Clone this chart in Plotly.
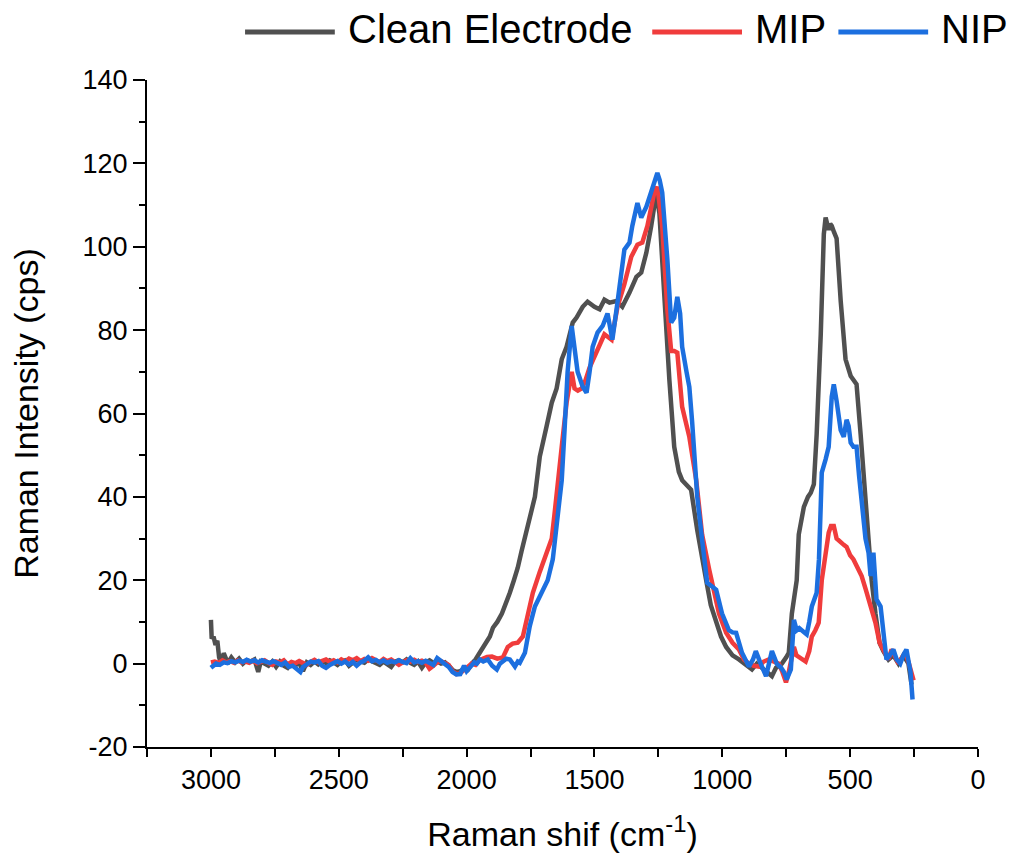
import plotly.graph_objects as go

# ---------------- data ----------------
clean_x = [3000, 2997, 2990, 2982, 2975, 2968, 2960, 2950, 2940, 2930, 2920, 2905, 2890, 2875, 2860, 2845, 2830, 2815,
           2805, 2790, 2775, 2760, 2745, 2730, 2715, 2700, 2685, 2670, 2655, 2640, 2625, 2610, 2595, 2580, 2565, 2550,
           2535, 2520, 2505, 2490, 2475, 2460, 2445, 2430, 2415, 2400, 2385, 2370, 2355, 2340, 2325, 2310, 2295, 2280,
           2265, 2250, 2235, 2220, 2205, 2190, 2175, 2160, 2145, 2130, 2115, 2100, 2085, 2070, 2055, 2040, 2025, 2010,
           1995, 1980, 1965, 1950, 1936, 1920, 1909, 1897, 1880, 1862, 1845, 1831, 1815, 1800, 1785, 1772, 1753, 1733,
           1714, 1700, 1687, 1667, 1648, 1628, 1609, 1585, 1570, 1546, 1527, 1500, 1480, 1461, 1441, 1414, 1391, 1363,
           1336, 1317, 1297, 1278, 1258, 1246, 1235, 1215, 1207, 1188, 1170, 1157, 1140, 1122, 1098, 1080, 1063, 1045,
           1024, 1005, 985, 960, 935, 915, 900, 884, 865, 845, 825, 806, 790, 767, 750, 740, 728, 709, 701, 681, 665,
           654, 642, 631, 615, 603, 596, 590, 584, 578, 572, 563, 553, 537, 518, 498, 485, 475, 459, 440, 416, 401, 385,
           370, 350, 331, 311, 292, 272, 260]
clean_y = [10.5, 6, 6.5, 4.5, 5.5, 1.5, 0, 2.5, 1, 0.5, 1.5, 0.3, 1.2, 0, 0.8, 0.5, 1, -2,
           0.5, 0, -0.5, 0.5, -0.8, 0.5, -0.5, -1, 0.2, -0.5, 0.3, -1.8, 0.3, -0.3, 0.5, -0.2, 0.5, 0.2,
           0.8, 0.3, -0.3, 0.5, 0.8, -0.5, 0.3, 1, 0.5, 0.2, 1, 0.5, 0.2, -0.3, 0.5, 0, -0.8, 0.5,
           0.8, 0.3, 1, 0.2, -0.3, 0.5, -1, 0.3, 0.8, 0.2, 0.5, 0, 0.3, -0.5, -1.5, -2, -1.8, -1.2,
           -1.5, 0, 1, 2.5, 4, 5.5, 6.5, 8.6, 10, 12, 14.5, 17, 20, 23, 27, 30, 34.5, 40,
           49.6, 53, 57, 62.6, 66, 73, 76, 81.8, 83, 85.6, 86.8, 85.6, 85, 87.3, 86.6, 87, 85.6, 89,
           92.8, 93.8, 98.6, 105, 113, 108, 97, 73, 68, 52, 46, 44, 43, 41.7, 32, 25, 20, 14,
           9.8, 6.5, 4, 2, 1, 0, -0.5, -1.4, 0, -1, -2, -3, -1, 0, 1.5, 2.6, 12, 20, 31, 37.6, 40,
           41, 43, 55, 79, 103, 107, 105, 104, 105.5, 105, 103.5, 102, 87, 73, 69, 68, 67, 55, 39, 20, 12, 5,
           3, 1, 2, 0, 2, 0, -5]

mip_x = [3000, 2985, 2970, 2955, 2940, 2925, 2910, 2895, 2880, 2865, 2850, 2835, 2820, 2805, 2790, 2775, 2760, 2745,
         2730, 2715, 2700, 2685, 2670, 2655, 2640, 2625, 2610, 2595, 2580, 2565, 2550, 2535, 2520, 2505, 2490, 2475,
         2460, 2445, 2430, 2415, 2400, 2385, 2370, 2355, 2340, 2325, 2310, 2295, 2280, 2265, 2250, 2235, 2220, 2205,
         2190, 2175, 2160, 2145, 2130, 2115, 2100, 2085, 2070, 2055, 2040, 2025, 2010, 1995, 1980, 1965, 1950, 1935,
         1920, 1901, 1880, 1858, 1839, 1820, 1800, 1780, 1761, 1741, 1714, 1687, 1667, 1656, 1644, 1628, 1609, 1589,
         1578, 1565, 1550, 1535, 1519, 1492, 1461, 1433, 1410, 1383, 1356, 1332, 1313, 1293, 1266, 1254, 1235, 1215,
         1200, 1188, 1176, 1157, 1129, 1102, 1079, 1051, 1030, 1013, 985, 960, 935, 915, 896, 877, 857, 838, 818, 800,
         779, 765, 751, 740, 732, 720, 710, 701, 688, 674, 660, 650, 636, 623, 611, 597, 584, 575, 564, 553, 537, 525,
         514, 500, 487, 470, 455, 440, 428, 415, 401, 385, 362, 350, 338, 325, 311, 297, 284, 270, 260, 252]
mip_y = [0.3, 0.5, 0.2, 0.8, 0.3, 0.6, 0.2, 0.8, 0.3, 0.5, 0.2, 0.7, 0.1, 0.5, 0.8, 0.2, -0.3, 0.5,
         0.3, 0.8, -0.2, 0.4, 0.1, 0.6, 0.2, -0.3, 0.4, 0.9, 0.3, 0.6, 1, 0.4, 0.8, 0.3, 1, 0.5,
         1.2, 0.8, 1.3, 0.6, 1.1, 0.7, 1.3, 0.8, 0.4, 1.1, 0.6, 1, 0.5, -0.3, 0.3, 0.8, 0.5, 0.9,
         0.4, 0.7, 0.2, -1.2, -0.5, 0.3, 0.6, 0.2, -0.3, -1.8, -2.5, -2.3, -1.5, -1, 0, -0.3, 0.8, 1.2,
         1.6, 1.7, 1.2, 1.5, 4, 4.8, 5, 6.5, 12, 17, 22, 26.6, 30, 36, 44, 52, 62.6, 70,
         66, 65.5, 66, 68, 71, 75, 79, 77.7, 85.6, 91, 97.6, 100.5, 101, 105, 113, 114.4, 105, 85,
         75, 75, 74.6, 61.6, 54.4, 44, 31, 22.5, 16, 12, 7.4, 5, 3.4, 1, 0, -0.5, -0.7, 0.5, 1, 0.5,
         0, -2, -4.5, -2, 0, 4, 2, 1.7, 1, 0.5, 3, 6.5, 8, 9.8, 20, 26, 31.4, 33, 33, 30, 29, 28.5,
         28, 26, 25, 23, 21, 18, 15.4, 13, 9.8, 5, 2.6, 1, 3.4, 1.5, 0, 1.5, 2.6, 0, -2, -4]

nip_x = [3000, 2990, 2980, 2965, 2950, 2935, 2920, 2905, 2890, 2875, 2860, 2845, 2830, 2815, 2800, 2785, 2770, 2755,
         2740, 2725, 2710, 2695, 2680, 2665, 2650, 2640, 2625, 2610, 2595, 2580, 2565, 2550, 2535, 2520, 2505, 2490,
         2475, 2460, 2445, 2430, 2415, 2400, 2385, 2370, 2355, 2340, 2325, 2310, 2295, 2280, 2265, 2250, 2235, 2220,
         2205, 2190, 2175, 2160, 2145, 2130, 2115, 2100, 2085, 2070, 2055, 2040, 2025, 2010, 2000, 1987, 1970, 1960,
         1948, 1935, 1917, 1900, 1882, 1870, 1858, 1845, 1831, 1811, 1800, 1792, 1772, 1753, 1733, 1706, 1683, 1663,
         1644, 1628, 1617, 1605, 1589, 1578, 1566, 1546, 1531, 1519, 1507, 1488, 1468, 1449, 1430, 1410, 1394, 1383,
         1363, 1352, 1332, 1317, 1297, 1278, 1254, 1245, 1235, 1215, 1200, 1188, 1176, 1165, 1157, 1140, 1129, 1118,
         1098, 1079, 1059, 1040, 1024, 1001, 974, 960, 946, 923, 896, 880, 869, 850, 829, 806, 787, 770, 759, 748,
         732, 720, 709, 699, 689, 670, 660, 650, 631, 622, 615, 611, 596, 584, 572, 564, 553, 537, 525, 514, 506,
         498, 487, 475, 465, 455, 440, 428, 420, 409, 397, 381, 370, 358, 345, 331, 318, 304, 292, 280, 264, 256]
nip_y = [-1, -0.5, 0, -0.3, 0.3, 0.1, 0.6, 0.3, 0.7, 0.4, 0.9, 0.5, 0.8, 0.3, 0.8, 0.5, 0.2, 0.6,
         0.2, -0.3, 0.3, -0.8, -0.5, -1.2, -2, -0.8, 0, 0.5, 0.3, 0.6, -0.5, -1, -0.3, 0.3, 0.6, 0,
         0.5, -0.2, 0.4, -0.5, 0.3, 0.7, 1.5, 0.6, 0.9, 0.3, 0.8, 0.2, 0.6, 0.3, 0.8, 0.4, 0.1, 1.3,
         0.3, 0.6, 0.2, 0.7, 0.3, -0.3, 1.3, 0.5, -0.2, -0.8, -2, -2.6, -2.5, -0.5, -1.8, -1, 0.3, 0,
         1, 0.5, 1, -0.5, -1.4, 0, 0.5, 1.2, 1, -0.7, 0.5, 0.2, 2.6, 9, 13.7, 17, 20, 25,
         34.5, 44, 56, 70, 81, 76, 70, 66.4, 65, 70, 76, 79.4, 81, 84, 77.7, 86.6, 93.8, 99.3,
         101, 105, 110.5, 107, 109.6, 113, 117.7, 116, 113, 97, 81.8, 83, 88, 84, 76, 70, 66.4, 58,
         40, 29.7, 19.4, 18.5, 17.7, 12, 8, 7.5, 7.4, 2.6, -0.7, 1, 3, 0, -3, 3, 0, -1, -2, -3.8,
         -1.4, 10.5, 8, 8.5, 8, 7, 10, 13.7, 17, 25, 38, 45.8, 49, 52, 64, 67, 63, 56, 54.4, 58.5, 57,
         53, 52, 52, 45, 39, 30, 26.6, 21, 26.6, 15.4, 13.7, 7, 1, 2, 3.4, 1, 0, 2, 3.4, -2, -8.6]

series_names = ["Clean Electrode", "MIP", "NIP"]
series_colors = ["#505050", "#f03c3c", "#1c6fdf"]

x_tick_vals = [0, 500, 1000, 1500, 2000, 2500, 3000]
y_tick_vals = [-20, 0, 20, 40, 60, 80, 100, 120, 140]

FONT = "Liberation Sans, Arial, sans-serif"

fig = go.Figure()
for name, xs, ys, col in zip(series_names, [clean_x, mip_x, nip_x], [clean_y, mip_y, nip_y], series_colors):
    fig.add_trace(go.Scatter(x=xs, y=ys, mode="lines", name=name, showlegend=False,
                             line=dict(color=col, width=4.5)))

# Origin-style legend above the plot: long line key followed by the series name
legend_keys = [(0.118, 0.226, 0.241), (0.608, 0.716, 0.731), (0.832, 0.940, 0.954)]
legend_y = 1.072
for (x0, x1, xt), name, col in zip(legend_keys, series_names, series_colors):
    fig.add_shape(type="line", xref="paper", yref="paper", x0=x0, x1=x1, y0=legend_y, y1=legend_y,
                  line=dict(color=col, width=5))
    fig.add_annotation(xref="paper", yref="paper", x=xt, y=legend_y + 0.004, text=name, showarrow=False,
                       xanchor="left", yanchor="middle", font=dict(size=40, family=FONT, color="black"),
                       borderpad=0)

fig.update_layout(
    width=1011, height=854,
    margin=dict(l=147, r=33, t=80, b=107, autoexpand=False),
    paper_bgcolor="white", plot_bgcolor="white",
    font=dict(family=FONT, color="black", size=27),
    showlegend=False,
)

fig.update_xaxes(
    range=[3250, 0], tickvals=x_tick_vals, ticktext=[str(v) for v in x_tick_vals],
    showline=True, linecolor="black", linewidth=2, mirror=False,
    ticks="outside", ticklen=8, tickwidth=2, tickcolor="black",
    minor=dict(dtick=250, tick0=0, ticks="outside", ticklen=8, tickwidth=2, tickcolor="black"),
    showgrid=False, zeroline=False,
    tickfont=dict(size=27, family=FONT, color="black"),
    title=dict(text="Raman shif (cm<sup>-1</sup>)", font=dict(size=34, family=FONT, color="black"), standoff=28),
)
fig.update_yaxes(
    range=[-20, 140], tickvals=y_tick_vals, ticktext=[str(v) for v in y_tick_vals],
    showline=True, linecolor="black", linewidth=2, mirror=False,
    ticks="outside", ticklen=12, tickwidth=2, tickcolor="black",
    minor=dict(dtick=10, tick0=0, ticks="outside", ticklen=6, tickwidth=2, tickcolor="black"),
    showgrid=False, zeroline=False,
    tickfont=dict(size=27, family=FONT, color="black"),
    title=dict(text="Raman Intensity (cps)", font=dict(size=34, family=FONT, color="black"), standoff=34),
)

fig.write_html("out.html")
